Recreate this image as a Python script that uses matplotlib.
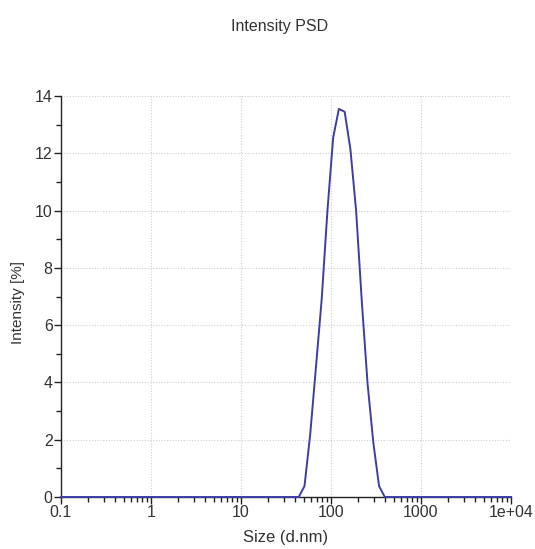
import matplotlib
matplotlib.use("Agg")
import matplotlib.pyplot as plt
from matplotlib.ticker import FixedLocator, NullFormatter

# Data
size_nm = [0.1, 43.8, 50.75, 58.8, 68.1, 78.8, 91.3, 105.7, 122.4, 141.8,
           164.2, 190.1, 220.2, 255.0, 295.3, 342.0, 396.1, 10000]
intensity = [0, 0, 0.38, 2.2, 4.55, 6.9, 10.0, 12.55, 13.55, 13.45,
             12.15, 10.0, 6.8, 3.95, 1.9, 0.38, 0, 0]

x_ticks = [0.1, 1, 10, 100, 1000, 10000]
x_tick_labels = ["0.1", "1", "10", "100", "1000", "1e+04"]
y_ticks = [0, 2, 4, 6, 8, 10, 12, 14]

plt.rcParams['font.family'] = ['Liberation Sans', 'DejaVu Sans']
fig = plt.figure(figsize=(5.35, 5.49), dpi=100)
ax = fig.add_axes([61/535, 52/549, (511-61)/535, (497-96)/549])

ax.plot(size_nm, intensity, color='#3d3da6', lw=1.4, clip_on=False, zorder=3)
ax.set_xscale('log')
ax.set_xlim(0.1, 10000)
ax.set_ylim(0, 14)

ax.set_xticks(x_ticks)
ax.set_xticklabels(x_tick_labels)
minors = [m * 10**e for e in range(-1, 4) for m in range(2, 10)]
ax.xaxis.set_minor_locator(FixedLocator(minors))
ax.xaxis.set_minor_formatter(NullFormatter())
ax.set_yticks(y_ticks)
ax.set_yticks([1, 3, 5, 7, 9, 11, 13], minor=True)

for s in ['top', 'right']:
    ax.spines[s].set_visible(False)
for s in ['left', 'bottom']:
    ax.spines[s].set_color('#222222')
    ax.spines[s].set_linewidth(1.0)

ax.tick_params(which='major', direction='out', length=5, width=1, colors='#222222',
               labelsize=11.5, labelcolor='#333333', pad=1)
ax.tick_params(which='minor', direction='out', length=3.5, width=1, colors='#222222')

ax.grid(True, which='major', linestyle=(0, (1, 1.5)), color='#cfcfcf', lw=0.8)
ax.set_axisbelow(True)

ax.set_xlabel('Size (d.nm)', fontsize=12, color='#333333', labelpad=7)
ax.set_ylabel('Intensity [%]', fontsize=11, color='#333333')
ax.yaxis.set_label_coords(-0.08, 0.485)
fig.text(280/535, 1 - 27/549, 'Intensity PSD', ha='center', va='center',
         fontsize=11.5, color='#333333')

fig.savefig('out.png', dpi=100)
